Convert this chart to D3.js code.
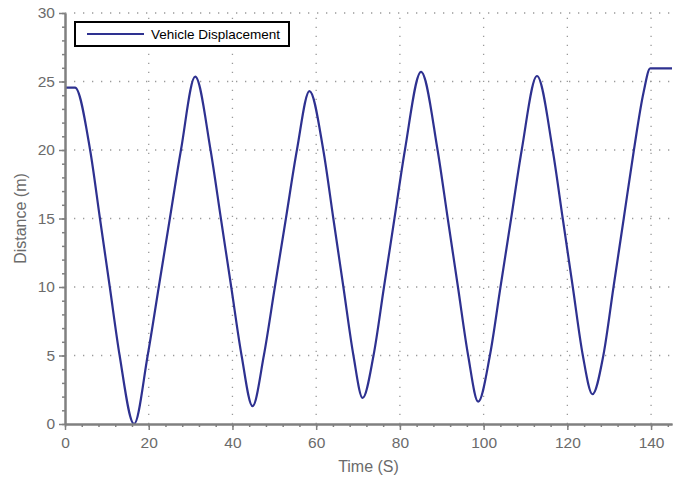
<!DOCTYPE html>
<html>
<head>
<meta charset="utf-8">
<script src="https://cdn.jsdelivr.net/npm/d3@7"></script>
<style>
  html, body { margin: 0; padding: 0; background: #fff; }
  svg { display: block; }
</style>
</head>
<body>
<svg id="chart" width="684" height="477"></svg>
<script>
// ---- data ----
const seriesName = "Vehicle Displacement";
const timeValues = [
  0, 2.4, 6.0, 8.35, 10.7, 13.05, 16.5,
  19.75, 22.4, 25.05, 27.7, 31.1,
  34.77, 37.24, 39.71, 42.18, 44.8,
  47.5, 50.13, 52.77, 55.4, 58.4,
  61.7, 64.1, 66.5, 68.9, 71.1,
  73.7, 76.2, 78.7, 81.2, 85.05,
  89.0, 91.43, 93.87, 96.3, 98.7,
  101.5, 104.03, 106.57, 109.1, 112.75,
  116.5, 118.9, 121.3, 123.7, 126.0,
  128.6, 131.03, 133.47, 135.9, 138.2, 139.8, 145
];
const distanceValues = [
  24.55, 24.55, 20, 15, 10, 5, 0,
  5, 10, 15, 20, 25.35,
  20, 15, 10, 5, 1.3,
  5, 10, 15, 20, 24.3,
  20, 15, 10, 5, 1.9,
  5, 10, 15, 20, 25.7,
  20, 15, 10, 5, 1.63,
  5, 10, 15, 20, 25.4,
  20, 15, 10, 5, 2.17,
  5, 10, 15, 20, 24.2, 25.96, 25.96
];
const xTicks = [0, 20, 40, 60, 80, 100, 120, 140];
const yTicks = [0, 5, 10, 15, 20, 25, 30];
const xMinorTicks = d3.range(0, 146, 4);
const yMinorTicks = d3.range(0, 31, 1);

// ---- layout ----
const svg = d3.select("#chart");
const mLeft = 65, mRight = 672, mTop = 13, mBottom = 424;
const x = d3.scaleLinear().domain([0, 145]).range([mLeft, mRight]);
const y = d3.scaleLinear().domain([0, 30]).range([mBottom, mTop]);

const axisColor = "#808080";
const labelColor = "#6b6b6b";
const lineColor = "#2e3190";
const font = "'Liberation Sans', Arial, sans-serif";

// grid
const grid = svg.append("g");
grid.selectAll("line.h").data(yTicks.filter(d => d > 0)).enter().append("line")
  .attr("x1", mLeft).attr("x2", mRight)
  .attr("y1", d => y(d)).attr("y2", d => y(d))
  .attr("stroke", "#9a9a9a").attr("stroke-width", 1.3)
  .attr("stroke-dasharray", "1.3,7.7");
grid.selectAll("line.v").data(xTicks.filter(d => d > 0)).enter().append("line")
  .attr("x1", d => x(d)).attr("x2", d => x(d))
  .attr("y1", mBottom).attr("y2", mTop)
  .attr("stroke", "#9a9a9a").attr("stroke-width", 1.3)
  .attr("stroke-dasharray", "1.3,7.7");

// line
const data = timeValues.map((t, i) => ({ t, v: distanceValues[i] }));
const line = d3.line().x(d => x(d.t)).y(d => y(d.v)).curve(d3.curveMonotoneX);
svg.append("path").datum(data)
  .attr("d", line)
  .attr("fill", "none")
  .attr("stroke", lineColor)
  .attr("stroke-width", 2.2)
  .attr("stroke-linejoin", "round");

// axes
function styleAxis(g, showLabels) {
  g.select(".domain").attr("stroke", axisColor).attr("stroke-width", 2);
  g.selectAll(".tick line").attr("stroke", axisColor).attr("stroke-width", 1.5);
  g.selectAll(".tick text")
    .attr("fill", labelColor)
    .style("font-family", font)
    .style("font-size", "15.5px");
  if (!showLabels) g.selectAll(".tick text").remove();
}

const xMinor = svg.append("g").attr("transform", `translate(0,${mBottom})`)
  .call(d3.axisBottom(x).tickValues(xMinorTicks).tickSize(3).tickSizeOuter(0).tickFormat(""));
styleAxis(xMinor, false);
const xAxis = svg.append("g").attr("transform", `translate(0,${mBottom})`)
  .call(d3.axisBottom(x).tickValues(xTicks).tickSize(6).tickSizeOuter(0).tickPadding(7));
styleAxis(xAxis, true);

const yMinor = svg.append("g").attr("transform", `translate(${mLeft},0)`)
  .call(d3.axisLeft(y).tickValues(yMinorTicks).tickSize(3).tickSizeOuter(0).tickFormat(""));
styleAxis(yMinor, false);
const yAxis = svg.append("g").attr("transform", `translate(${mLeft},0)`)
  .call(d3.axisLeft(y).tickValues(yTicks).tickSize(6).tickSizeOuter(0).tickPadding(4));
styleAxis(yAxis, true);

// axis titles
svg.append("text")
  .attr("x", (mLeft + mRight) / 2).attr("y", 472)
  .attr("text-anchor", "middle")
  .attr("fill", labelColor)
  .style("font-family", font).style("font-size", "16px")
  .text("Time (S)");
svg.append("text")
  .attr("transform", `translate(26,${(mTop + mBottom) / 2}) rotate(-90)`)
  .attr("text-anchor", "middle")
  .attr("fill", labelColor)
  .style("font-family", font).style("font-size", "16px")
  .text("Distance (m)");

// legend
const lg = svg.append("g");
lg.append("rect").attr("x", 75).attr("y", 22).attr("width", 214).attr("height", 24)
  .attr("fill", "#fff").attr("stroke", "#000").attr("stroke-width", 2);
lg.append("line").attr("x1", 87).attr("x2", 144).attr("y1", 34).attr("y2", 34)
  .attr("stroke", lineColor).attr("stroke-width", 2.2);
lg.append("text").attr("x", 151).attr("y", 39)
  .attr("fill", "#000")
  .style("font-family", font).style("font-size", "13.5px")
  .text(seriesName);
</script>
</body>
</html>
